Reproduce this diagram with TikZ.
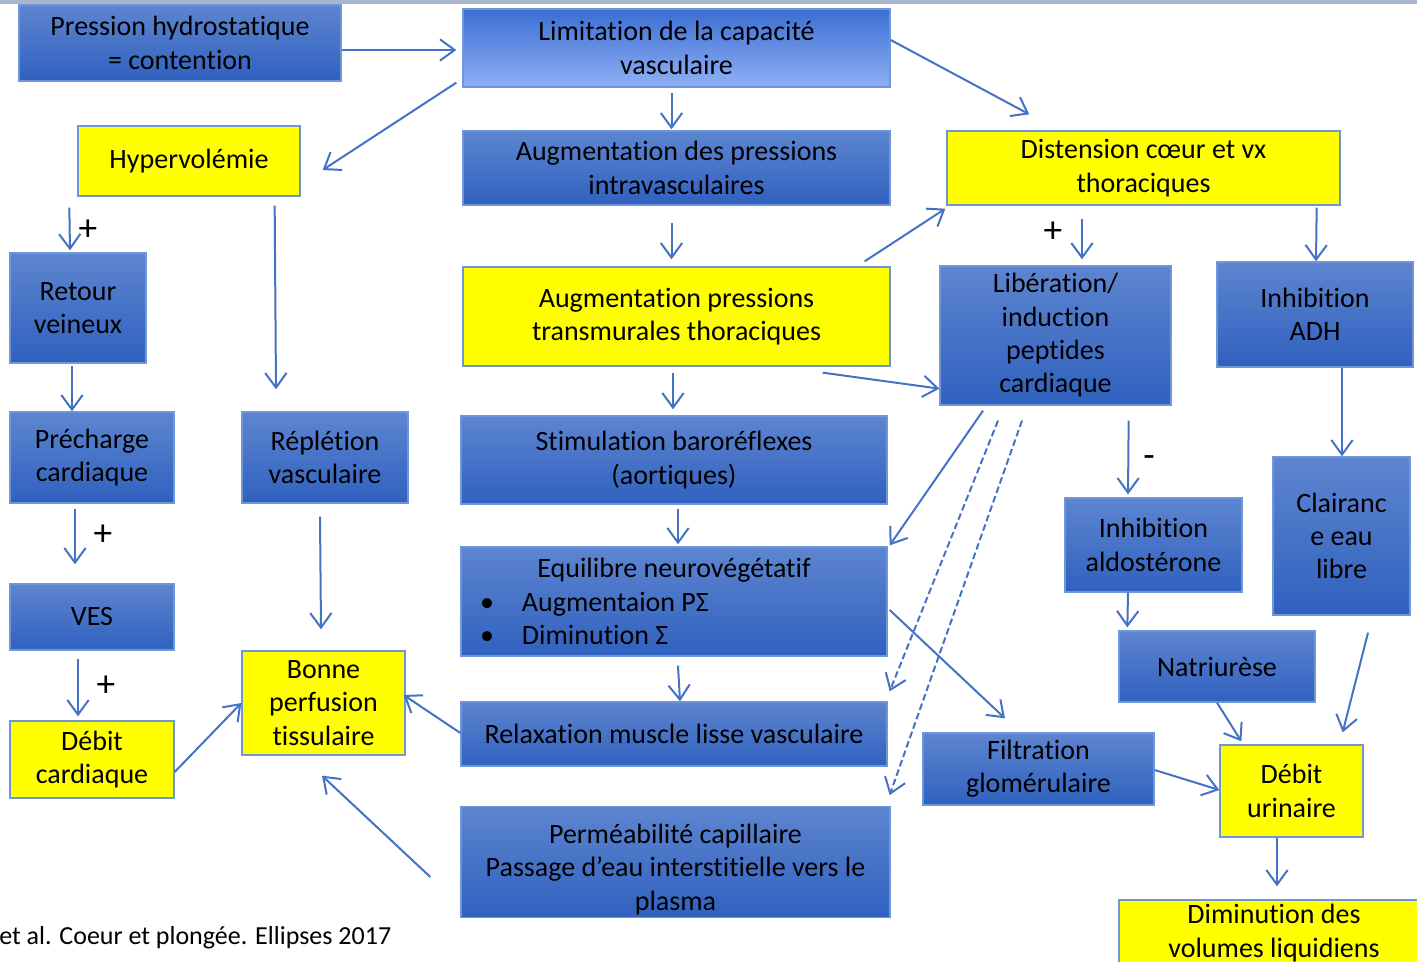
\documentclass[tikz,border=0pt]{standalone}
\usepackage{fontspec}
\setmainfont{Carlito}[Ligatures=CommonOff]
\usetikzlibrary{arrows.meta,calc}
\definecolor{arrowblue}{HTML}{4472C4}
\definecolor{edgeblue}{HTML}{7096DA}
\definecolor{boxtop}{HTML}{5D85D0}
\definecolor{boxbot}{HTML}{3061BF}
\definecolor{limtop}{HTML}{3B6ED2}
\definecolor{limbot}{HTML}{90B0F6}
\definecolor{topgray}{HTML}{AAB6CB}
\definecolor{boxyellow}{HTML}{FFFF00}

\begin{document}
\begin{tikzpicture}[x=0.75pt,y=-0.75pt,
    box/.style={draw=edgeblue,line width=1pt,align=center,inner sep=2pt,
        font=\fontsize{21}{25}\selectfont},
    bluebox/.style={box,top color=boxtop,bottom color=boxbot},
    limitbox/.style={box,top color=limtop,bottom color=limbot},
    yellowbox/.style={box,fill=boxyellow},
    sz/.style 2 args={minimum width=#1*0.75pt,minimum height=#2*0.75pt},
    arr/.style={draw=arrowblue,line width=1.5pt,
        -{Straight Barb[length=11pt,width=16pt]}},
    sign/.style={font=\fontsize{28}{28}\selectfont,inner sep=0pt}]

    % frame of the slide
    \useasboundingbox (0,0) rectangle (1417,962);
    \clip (0,0) rectangle (1417,962);
    \fill[topgray] (0,0) rectangle (1417,4);

    % boxes
    \node[bluebox,sz={322}{76}] (press) at (180,43) {Pression hydrostatique\\= contention};
    \node[limitbox,sz={427}{78}] (limit) at (676.5,48) {Limitation de la capacité\\vasculaire};
    \node[yellowbox,sz={222}{70}] (hyper) at (189,161) {Hypervolémie};
    \node[bluebox,sz={427}{74}] (augint) at (676.5,168) {Augmentation des pressions\\intravasculaires};
    \node[yellowbox,sz={393}{74}] (dist) at (1143.5,168) {Distension cœur et vx\\thoraciques};
    \node[bluebox,sz={136}{110}] (retour) at (78,308) {Retour\\veineux};
    \node[yellowbox,sz={427}{99}] (augtrans) at (676.5,316.5) {Augmentation pressions\\transmurales thoraciques};
    \node[bluebox,sz={231}{139}] (lib) at (1055.5,335.5) {Libération/\\induction\\peptides\\cardiaque};
    \node[bluebox,sz={196}{105}] (inhadh) at (1315,314.5) {Inhibition\\ADH};
    \node[bluebox,sz={164}{91}] (prech) at (92,457.5) {Précharge\\cardiaque};
    \node[bluebox,sz={166}{91}] (repl) at (325,457.5) {Réplétion\\vasculaire};
    \node[bluebox,sz={426}{88}] (stim) at (674,460) {Stimulation baroréflexes\\(aortiques)};
    \node[bluebox,sz={177}{94}] (inhald) at (1153.5,545) {Inhibition\\aldostérone};
    \node[bluebox,sz={137}{158}] (clair) at (1341.5,536) {Clairanc\\e eau\\libre};
    \node[bluebox,sz={164}{66}] (ves) at (92,617) {VES};
    \node[bluebox,sz={426}{109},align=left] (equil) at (674,601.5)
        {\makebox[300pt]{Equilibre neurovégétatif}\\
         \hspace*{4.5pt}\makebox[31.5pt][l]{\textbullet}Augmentaion PΣ\\
         \hspace*{4.5pt}\makebox[31.5pt][l]{\textbullet}Diminution Σ};
    \node[bluebox,sz={196}{71}] (natr) at (1217,666.5) {Natriurèse};
    \node[yellowbox,sz={163}{104}] (bonne) at (323.5,703) {Bonne\\perfusion\\tissulaire};
    \node[bluebox,sz={426}{64}] (relax) at (674,734) {Relaxation muscle lisse vasculaire};
    \node[bluebox,sz={231}{72}] (filt) at (1038.5,769) {Filtration\\glomérulaire};
    \node[yellowbox,sz={164}{77}] (debc) at (92,759.5) {Débit\\cardiaque};
    \node[yellowbox,sz={143}{92}] (debu) at (1291.5,791) {Débit\\urinaire};
    \node[bluebox,sz={429}{108}] (perm) at (675.5,862)
        {\rule{0pt}{25.5pt}Perméabilité capillaire\\Passage d’eau interstitielle vers le\\plasma};
    \node[yellowbox,sz={310}{66}] (dimin) at (1274,933) {Diminution des\\volumes liquidiens};

    \node[anchor=west,inner sep=0pt,font=\fontsize{19.5}{22}\selectfont] (cite) at (-1,938)
        {et al. Coeur et plongée. Ellipses 2017};

    % connectors
    \draw[arr] ($(press.east)+(0,7)$) -- ($(limit.west)+(-6,2)$);
    \draw[arr] ($(limit.south west)+(-6,-5)$) -- ($(hyper.east)+(22,9)$);
    \draw[arr] ($(limit.east)+(0,-8)$) -- ($(dist.north west)+(83,-16)$);
    \draw[arr] ($(limit.south)+(-5,5)$) -- ($(augint.north)+(-5,-1)$);
    \draw[arr] ($(augint.south)+(-5,17)$) -- ($(augtrans.north)+(-5,-7)$);
    \draw[arr] ($(augtrans.north east)+(-26,-5)$) -- ($(dist.south west)+(-1,3)$);
    \draw[arr] ($(hyper.south west)+(-8,11)$) -- ($(retour.north)+(-8,-2)$);
    \draw[arr] ($(hyper.south east)+(-26,9)$) -- ($(repl.north)+(-49,-22)$);
    \draw[arr] ($(dist.south)+(-61.5,13)$) -- ($(lib.north)+(26.5,-6)$);
    \draw[arr] ($(dist.south east)+(-24,2)$) -- ($(inhadh.north)+(1,0)$);
    \draw[arr] ($(augtrans.south east)+(-68,6)$) -- ($(lib.south west)+(0,-17)$);
    \draw[arr] ($(augtrans.south)+(-3.5,6)$) -- ($(stim.north)+(-1,-6)$);
    \draw[arr] ($(retour.south)+(-6,2)$) -- ($(prech.north)+(-20,0)$);
    \draw[arr] ($(lib.south)+(-72.5,5)$) -- ($(equil.north east)+(2,-1)$);
    \draw[arr,dash pattern=on 5pt off 2.5pt] ($(lib.south)+(-57.5,15)$) -- ($(relax.north east)+(2,-10)$);
    \draw[arr,dash pattern=on 5pt off 2.5pt] ($(lib.south)+(-33.5,15)$) -- ($(perm.north east)+(-1,-11)$);
    \draw[arr] ($(lib.south east)+(-43,15)$) -- ($(inhald.north)+(-25.5,-3)$);
    \draw[arr] ($(inhadh.south)+(27,0)$) -- ($(clair.north)+(0.5,0)$);
    \draw[arr] ($(prech.south)+(-17,5)$) -- ($(ves.north)+(-17,-19)$);
    \draw[arr] ($(repl.south)+(-5,13)$) -- ($(bonne.north)+(-2.5,-21)$);
    \draw[arr] ($(stim.south)+(4,4)$) -- ($(equil.north)+(4,-2)$);
    \draw[arr] ($(equil.south)+(4,9)$) -- ($(relax.north)+(6,0)$);
    \draw[arr] ($(equil.east)+(2,8.5)$) -- ($(filt.north)+(-33.5,-14)$);
    \draw[arr] ($(inhald.south)+(-25.5,0)$) -- ($(natr.north west)+(9,-3)$);
    \draw[arr] ($(clair.south)+(26.5,17)$) -- ($(debu.north east)+(-21,-12)$);
    \draw[arr] ($(ves.south)+(-14,8)$) -- ($(debc.north)+(-14,-4)$);
    \draw[arr] (natr.south) -- ($(debu.north west)+(22,-3)$);
    \draw[arr] ($(filt.east)+(0,1)$) -- ($(debu.west)+(0,-1)$);
    \draw[arr] ($(debc.east)+(0,12.5)$) -- (bonne.west);
    \draw[arr] ($(relax.west)+(0,-1)$) -- ($(bonne.east)+(-2,-8)$);
    \draw[arr] ($(perm.west)+(-30,15)$) -- ($(bonne.south)+(-1.5,20)$);
    \draw[arr] ($(debu.south)+(-14.5,0)$) -- ($(dimin.north)+(3,-13)$);

    % signs
    \node[sign] (s1) at (88,230) {+};
    \node[sign] (s2) at (1053,232) {+};
    \node[sign] (s3) at (1149,462) {-};
    \node[sign] (s4) at (103,535) {+};
    \node[sign] (s5) at (106,686) {+};
\end{tikzpicture}
\end{document}
